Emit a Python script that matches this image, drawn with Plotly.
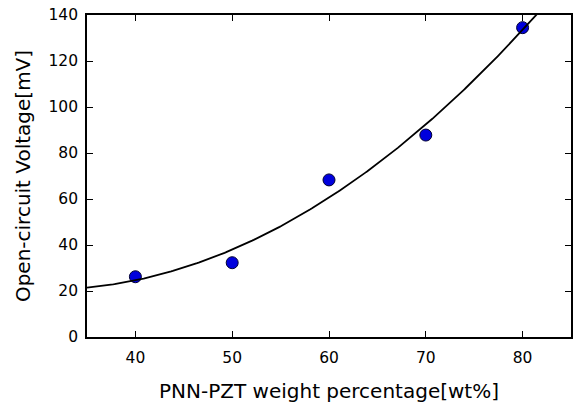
import numpy as np
import plotly.graph_objects as go

# Measured open-circuit voltage vs. PNN-PZT content
wt_percent = [40, 50, 60, 70, 80]
voltage_mv = [26.2, 32.3, 68.3, 87.8, 134.5]

x_ticks = [40, 50, 60, 70, 80]
y_ticks = [0, 20, 40, 60, 80, 100, 120, 140]

# Second-order polynomial fit of the measurements
coef = np.polyfit(wt_percent, voltage_mv, 2)
x_fit = np.linspace(35, 85, 300)
y_fit = np.polyval(coef, x_fit)

FONT = "DejaVu Sans"

fig = go.Figure()
fig.add_trace(go.Scatter(
    x=wt_percent, y=voltage_mv, mode="markers",
    marker=dict(size=12, color="#0000dd", line=dict(color="#000033", width=1)),
    cliponaxis=False, showlegend=False,
))
fig.add_trace(go.Scatter(
    x=x_fit, y=y_fit, mode="lines",
    line=dict(color="black", width=1.8), showlegend=False,
))

axis_common = dict(
    showgrid=False, zeroline=False, showline=True, linecolor="black", linewidth=1.6,
    mirror="ticks", ticks="inside", ticklen=6, tickwidth=1.4, tickcolor="black",
    tickfont=dict(family=FONT, size=15.5, color="black"),
)

fig.update_layout(
    width=579, height=407,
    margin=dict(l=87, r=6, t=14, b=70),
    paper_bgcolor="white", plot_bgcolor="white",
    xaxis=dict(range=[35, 85], tickvals=x_ticks, ticklabelstandoff=6,
               title=dict(text="PNN-PZT weight percentage[wt%]",
                          font=dict(family=FONT, size=20, color="black"), standoff=18),
               **axis_common),
    yaxis=dict(range=[0, 140], tickvals=y_ticks, ticklabelstandoff=4,
               title=dict(text="Open-circuit Voltage[mV]",
                          font=dict(family=FONT, size=20, color="black"), standoff=13),
               **axis_common),
)

fig.write_html("out.html")
